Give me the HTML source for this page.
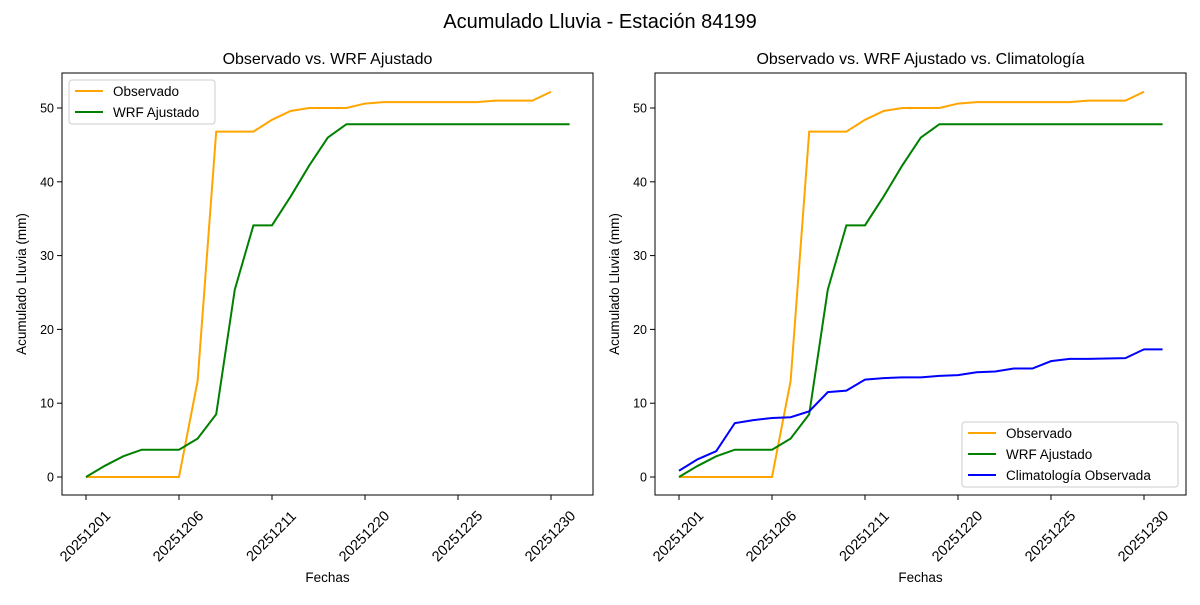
<!DOCTYPE html>
<html><head><meta charset="utf-8"><style>
body{margin:0;background:#fff;}
svg text{font-family:"Liberation Sans","DejaVu Sans",sans-serif;fill:#000;}
</style></head><body>
<svg id="chart" width="1200" height="600" viewBox="0 0 1200 600">
<text x="600" y="28" font-size="20" text-anchor="middle">Acumulado Lluvia - Estación 84199</text>
<g id="p1"></g>
<g id="p2"></g>
</svg>
<script>
const tickIdx=[0,5,10,15,20,25];
const tickLabels=["20251201","20251206","20251211","20251220","20251225","20251230"];
const yTicks=[0,10,20,30,40,50];
const observado=[0,0,0,0,0,0,13,46.8,46.8,46.8,48.4,49.6,50,50,50,50.6,50.8,50.8,50.8,50.8,50.8,50.8,51,51,51,52.2];
const wrf=[0,1.5,2.8,3.7,3.7,3.7,5.2,8.5,25.4,34.1,34.1,38,42.2,46,47.8,47.8,47.8,47.8,47.8,47.8,47.8,47.8,47.8,47.8,47.8,47.8,47.8];
const clima=[0.85,2.4,3.5,7.3,7.7,8.0,8.1,8.9,11.5,11.7,13.2,13.4,13.5,13.5,13.7,13.8,14.2,14.3,14.7,14.7,15.7,16.0,16.0,16.05,16.1,17.3,17.3];
const NS='http://www.w3.org/2000/svg';
function mk(tag,attrs,parent,text){const e=document.createElementNS(NS,tag);for(const k in attrs)e.setAttribute(k,attrs[k]);if(text!==undefined)e.textContent=text;parent.appendChild(e);return e;}
function panel(g,x0,x1,title,series,legendRight){
  const y0=73,y1=495;
  const xs=i=>x0+24+i*18.6;
  const ys=v=>477-v*7.38;
  const t=mk('text',{x:(x0+x1)/2,y:y0-9,'font-size':16,'text-anchor':'middle'},g,title);
  
  
  yTicks.forEach(v=>{
    mk('line',{x1:x0-5,x2:x0,y1:ys(v),y2:ys(v),stroke:'#000'},g);
    const l=mk('text',{x:x0-8,y:ys(v)+4.5,'font-size':12.5,'text-anchor':'end'},g,String(v));
    
    
  });
  tickIdx.forEach((ix,k)=>{
    const x=xs(ix), cx=x-1, cy=y1+41;
    mk('line',{x1:x,x2:x,y1:y1,y2:y1+5,stroke:'#000'},g);
    const l=mk('text',{x:cx,y:cy+5,'font-size':14.5,'text-anchor':'middle',transform:`rotate(-45 ${cx} ${cy})`},g,tickLabels[k]);
    
    
  });
  series.forEach(s=>{
    const p=mk('polyline',{points:s.d.map((v,i)=>xs(i)+','+ys(v)).join(' '),fill:'none',stroke:s.c,'stroke-width':2},g);
    
    
  });
  mk('rect',{x:x0,y:y0,width:x1-x0,height:y1-y0,fill:'none',stroke:'#000','stroke-width':1},g);
  const xt=mk('text',{x:(x0+x1)/2,y:582,'font-size':13.5,'text-anchor':'middle'},g,'Fechas');
  
  
  const yt=mk('text',{x:0,y:0,'font-size':13.5,'text-anchor':'middle',transform:`translate(${x0-36},${(y0+y1)/2}) rotate(-90)`},g,'Acumulado Lluvia (mm)');
  
  
  const lw=legendRight?216:146, lh=series.length*21+2;
  const lx=legendRight?x1-lw-8:x0+7, ly=legendRight?y1-lh-8:y0+7;
  const lg=mk('g',{},g);
  
  
  mk('rect',{x:lx,y:ly,width:lw,height:lh,rx:3,fill:'#fff',stroke:'#ccc'},lg);
  series.forEach((s,i)=>{
    const yy=ly+11+i*21;
    mk('line',{x1:lx+6,x2:lx+34,y1:yy,y2:yy,stroke:s.c,'stroke-width':2},lg);
    const e=mk('text',{x:lx+44,y:yy+5,'font-size':13.5},lg,s.label);
    
    
  });
}
panel(document.getElementById('p1'),62,593,'Observado vs. WRF Ajustado',
 [{d:observado,c:'#ffa500',n:'observado-line',label:'Observado'},{d:wrf,c:'#008000',n:'wrf-line',label:'WRF Ajustado'}],false);
panel(document.getElementById('p2'),655,1186,'Observado vs. WRF Ajustado vs. Climatología',
 [{d:observado,c:'#ffa500',n:'observado-line',label:'Observado'},{d:wrf,c:'#008000',n:'wrf-line',label:'WRF Ajustado'},{d:clima,c:'#0000ff',n:'climatologia-line',label:'Climatología Observada'}],true);
</script>
</body></html>
